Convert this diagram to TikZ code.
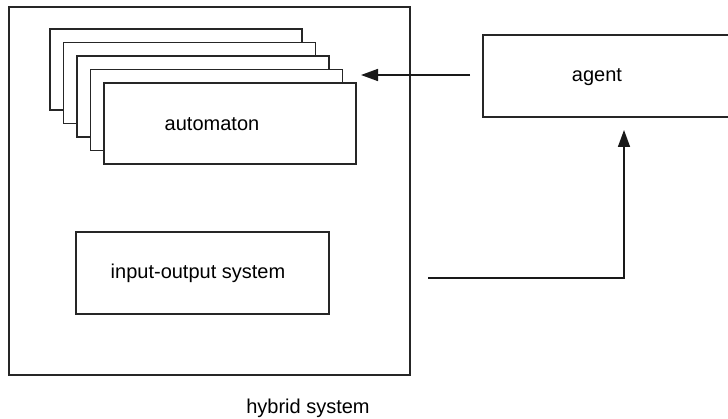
\documentclass[tikz,border=0pt]{standalone}
\usepackage{fontspec}
\setmainfont{Liberation Sans}
\usetikzlibrary{arrows.meta}
\begin{document}
\begin{tikzpicture}[x=1pt,y=-1pt,
  boxstyle/.style={draw=black!85,line width=1.6pt,fill=white,rectangle,inner sep=0pt,outer sep=0pt,minimum width=252pt,minimum height=81pt},
  lbl/.style={font=\fontsize{20}{24}\selectfont,inner sep=0pt},
  arr/.style={draw=black!90,line width=1.6pt,-{Triangle[length=17pt,width=12pt]}},
  conn/.style={draw=black!90,line width=1.6pt}]
\useasboundingbox (0,0) rectangle (728,419);
\clip (0,0) rectangle (728,419);
% outer hybrid system box
\node (hybrid) [draw=black!85,line width=1.5pt,rectangle,inner sep=0pt,outer sep=0pt,minimum width=401pt,minimum height=368pt] at (209.5,191) {};
\node (hybridlabel) [lbl] at (308,408) {hybrid system};
% stacked automata
\node (auto1) [boxstyle] at (176,69.5) {};
\node (auto2) [boxstyle] at (189.5,83) {};
\node (auto3) [boxstyle] at (203,96.5) {};
\node (auto4) [boxstyle] at (216.5,110) {};
\node (auto5) [boxstyle] at (230,123.5) {};
\node (autotext) [lbl] at (212,124) {automaton};
% input-output system
\node (io) [boxstyle,minimum width=253pt,minimum height=82pt] at (202.5,273) {};
\node (iotext) [lbl] at (198,273) {input-output system};
% agent
\node (agent) [boxstyle,minimum width=262pt,minimum height=82pt] at (614,76) {};
\node (agenttext) [lbl] at (597,77) {agent};
% connectors
\coordinate (a1s) at (470,75);
\coordinate (a1e) at (361,75);
\draw[arr] (a1s) -- (a1e);
\coordinate (a2s) at (428,278);
\coordinate (a2c) at (624,278);
\coordinate (a2e) at (624,130);
\draw[arr] (a2s) -- (a2c) -- (a2e);
\end{tikzpicture}
\end{document}
